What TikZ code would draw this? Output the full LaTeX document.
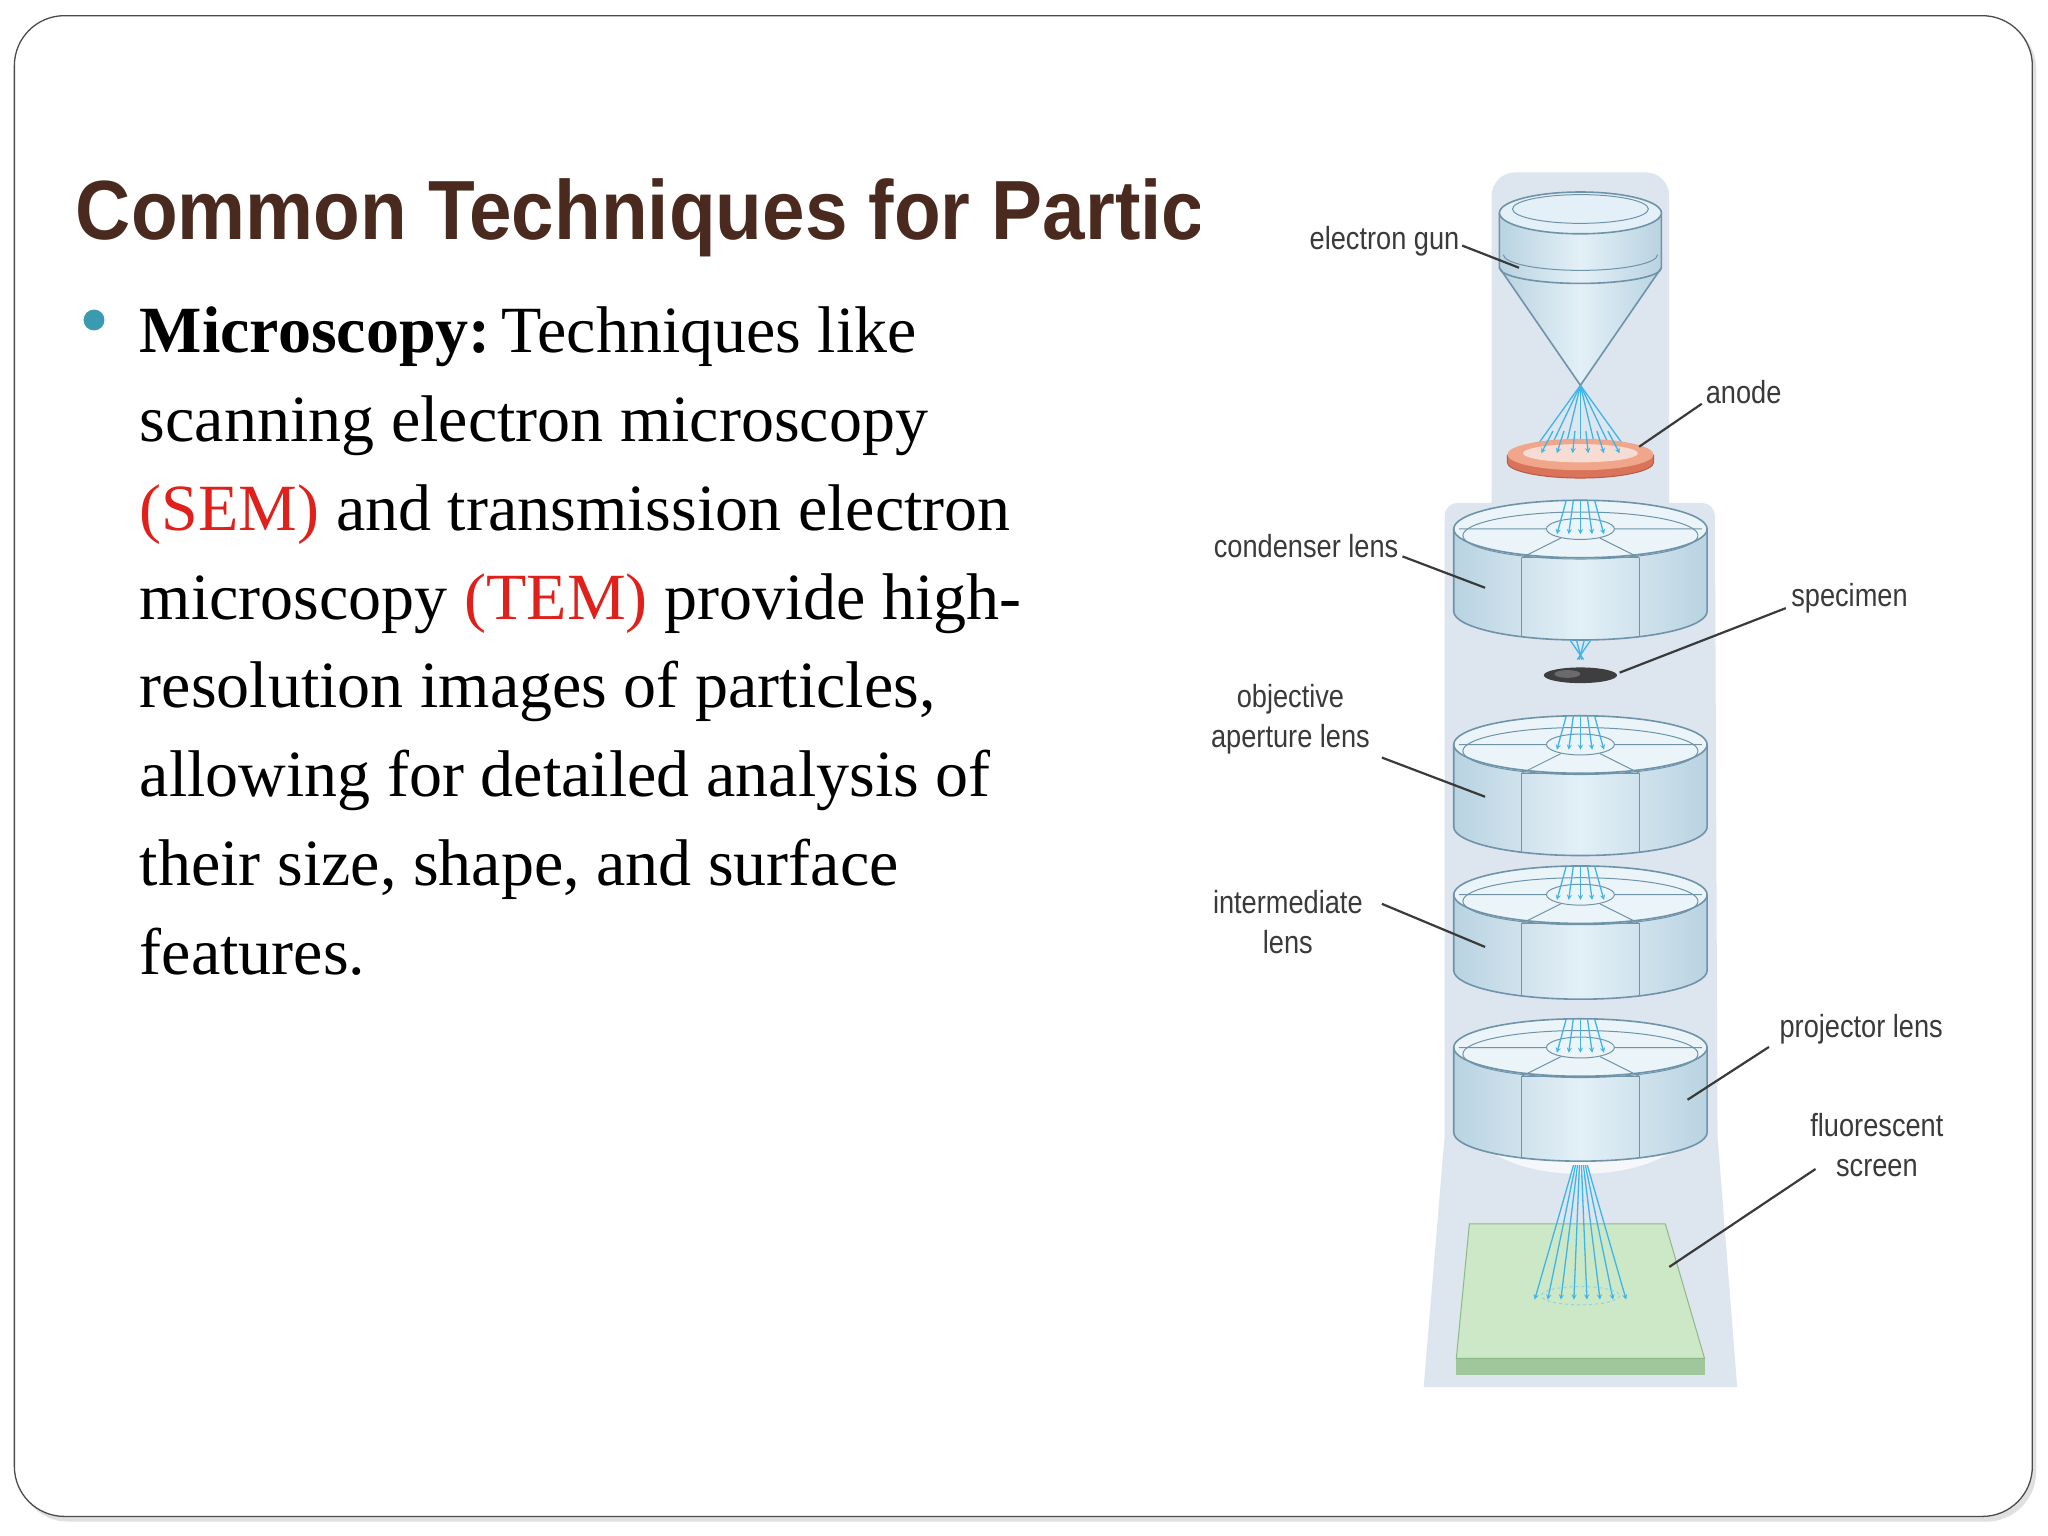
\documentclass[tikz,border=0pt]{standalone}
\usepackage{fontspec}
\setmainfont{Liberation Serif}
\newfontfamily\titlefont{Liberation Sans}
\newfontfamily\labfont{Liberation Sans}
\definecolor{titlec}{HTML}{4A2A1E}
\definecolor{bul}{HTML}{3A9BB0}
\definecolor{redt}{HTML}{E0201B}
\definecolor{colbg}{HTML}{DDE5EE}
\definecolor{lensL}{HTML}{B9D3E1}
\definecolor{lensM}{HTML}{E3F0F7}
\definecolor{lensE}{HTML}{6F93A8}
\definecolor{beam}{HTML}{3DB5EA}
\definecolor{labc}{HTML}{3A3A3A}
\definecolor{anA}{HTML}{D9735A}
\definecolor{anB}{HTML}{B85A45}
\definecolor{anC}{HTML}{EFA68A}
\definecolor{anD}{HTML}{F6DCD2}
\definecolor{specA}{HTML}{3E3E3E}
\definecolor{specB}{HTML}{6A6A6A}
\definecolor{scrA}{HTML}{9FC79B}
\definecolor{scrB}{HTML}{CDE8C6}
\definecolor{scrC}{HTML}{8DB889}
\tikzset{
 lab/.style={font=\labfont\fontsize{32}{40}\selectfont, text=labc, align=center, xscale=0.85, inner sep=0pt},
 leader/.style={draw=labc, line width=2.2pt},
 bodytxt/.style={anchor=base west, inner sep=0pt, font=\fontsize{66}{80}\selectfont},
 beamln/.style={draw=beam, line width=1.3pt},
 lensedge/.style={draw=lensE, line width=1.6pt}
}
\newcommand\lensdisc[2]{%
 \fill[left color=lensL, right color=lensL, middle color=lensM] (1113,#1) -- (1113,#1+#2) arc[start angle=180,end angle=0,x radius=97,y radius=22] -- (1307,#1) -- cycle;
 \fill[lensM!70!white] (1210,#1) ellipse[x radius=97,y radius=22];
 \draw[lensedge] (1113,#1) -- (1113,#1+#2) arc[start angle=180,end angle=0,x radius=97,y radius=22] -- (1307,#1);
 \draw[lensedge] (1210,#1) ellipse[x radius=97,y radius=22];
 \draw[lensedge, line width=1pt] (1210,#1+5) ellipse[x radius=90,y radius=18];
 \draw[lensedge, line width=1pt] (1210,#1) ellipse[x radius=26,y radius=8];
 \draw[lensedge, line width=1pt] (1184,#1) -- (1117,#1) (1236,#1) -- (1303,#1)
   (1195,#1+7) -- (1165,#1+22) (1225,#1+7) -- (1255,#1+22);
 \draw[lensedge, line width=1pt] (1165,#1+22) -- (1165,#1+#2+19) (1255,#1+22) -- (1255,#1+#2+19)
   (1165,#1+22) -- (1255,#1+22);
 \foreach \dx in {-18,-9,0,9,18}{\draw[beamln,-stealth] (1210+\dx*0.6,#1-22) -- (1210+\dx,#1+4);}
}
\begin{document}
\begin{tikzpicture}[x=1.306pt,y=-1.306pt]
\useasboundingbox (0,0) rectangle (1568,1176);
\fill[white] (0,0) rectangle (1568,1176);
% frame
\fill[black!12, rounded corners=50pt] (14,15) rectangle (1559,1165);
\draw[black!70, line width=1.3pt, fill=white, rounded corners=50pt] (11,12) rectangle (1556,1161);
% title
\begin{scope}
\clip (40,100) rectangle (918,210);
\node[anchor=base west, inner sep=0pt, text=titlec, font=\titlefont\bfseries\fontsize{84}{90}\selectfont, xscale=0.91] (title) at (58,183) {Common Techniques for Particle};
\end{scope}
% bullet text
\fill[bul] (72,245) circle[radius=8];
\node[bodytxt] (l1) at (107,270) {\textbf{Microscopy:}\,Techniques like};
\node[bodytxt] (l2) at (107,338) {scanning electron microscopy};
\node[bodytxt] (l3) at (107,406) {\textcolor{redt}{(SEM)} and transmission electron};
\node[bodytxt] (l4) at (107,474) {microscopy \textcolor{redt}{(TEM)} provide high-};
\node[bodytxt] (l5) at (107,542) {resolution images of particles,};
\node[bodytxt] (l6) at (107,610) {allowing for detailed analysis of};
\node[bodytxt] (l7) at (107,678) {their size, shape, and surface};
\node[bodytxt] (l8) at (107,746) {features.};
% column background
\fill[colbg] (1142,385) -- (1142,150) arc[start angle=180,end angle=270,radius=18] -- (1260,132) arc[start angle=270,end angle=360,radius=18] -- (1278,385) -- (1303,385) arc[start angle=270,end angle=360,radius=10] -- (1315,870) -- (1330,1062) -- (1090,1062) -- (1106,870) -- (1106,395) arc[start angle=180,end angle=270,radius=10] -- cycle;
\fill[white!70!colbg] (1140,880) .. controls (1170,905) and (1250,905) .. (1282,880) -- (1282,870) -- (1140,870) -- cycle;
% electron gun
\fill[left color=lensL, right color=lensL, middle color=lensM] (1148,163) -- (1148,205) -- (1210,295) -- (1272,205) -- (1272,163) -- cycle;
\draw[lensedge] (1148,163) -- (1148,205) -- (1210,295) -- (1272,205) -- (1272,163);
\draw[lensedge] (1148,205) arc[start angle=180,end angle=0,x radius=62,y radius=12];
\draw[lensedge, line width=1pt] (1151,195) arc[start angle=180,end angle=0,x radius=59,y radius=12];
\fill[lensM] (1210,163) ellipse[x radius=62,y radius=16];
\draw[lensedge] (1210,163) ellipse[x radius=62,y radius=16];
\draw[lensedge, line width=1pt] (1210,160) ellipse[x radius=52,y radius=11];
\coordinate (gun) at (1163,205);
% beams gun->anode
\foreach \dx in {-36,-24,-12,0,12,24,36}{\draw[beamln,-stealth] (1210,295) -- (1210+\dx,345);}
% anode
\fill[anA] (1154,348) -- (1154,354) arc[start angle=180,end angle=0,x radius=56,y radius=12] -- (1266,348) -- cycle;
\draw[anB, line width=1pt] (1154,348) -- (1154,354) arc[start angle=180,end angle=0,x radius=56,y radius=12] -- (1266,348);
\fill[anC] (1210,348) ellipse[x radius=56,y radius=12];
\fill[anD] (1210,347) ellipse[x radius=44,y radius=7];
\foreach \dx in {-30,-18,-6,6,18,30}{\draw[beamln,-stealth] (1210+\dx*0.7,330) -- (1210+\dx,347);}
\coordinate (anode) at (1255,342);
% lenses
\lensdisc{405}{63}
\foreach \dx in {-8,-3,3,8}{\draw[beamln] (1210+\dx,490) -- (1210-\dx*0.3,505);}
\fill[specA] (1210,517) ellipse[x radius=28,y radius=6];
\fill[specB] (1200,516) ellipse[x radius=10,y radius=3];
\lensdisc{570}{63}
\lensdisc{685}{58}
\lensdisc{802}{65}
\coordinate (cond) at (1137,450);
\coordinate (spec) at (1240,515);
\coordinate (obj) at (1137,610);
\coordinate (inter) at (1137,725);
\coordinate (proj) at (1292,842);
% screen
\fill[scrA] (1115,1040) -- (1305,1040) -- (1305,1053) -- (1115,1053) -- cycle;
\fill[scrB] (1125,937) -- (1275,937) -- (1305,1040) -- (1115,1040) -- cycle;
\draw[scrC, line width=1pt] (1125,937) -- (1275,937) -- (1305,1040) -- (1115,1040) -- cycle;
\foreach \dx in {-35,-25,-15,-5,5,15,25,35}{\draw[beamln,-stealth] (1210+\dx*0.15,892) -- (1210+\dx,995);}
\draw[beam!60, line width=1pt, dashed] (1210,992) ellipse[x radius=30,y radius=7];
\coordinate (scr) at (1278,970);
% labels
\node[lab] (Lgun) at (1060,185) {electron gun};
\node[lab] (Lan) at (1335,300) {anode};
\node[lab] (Lcond) at (1000,418) {condenser lens};
\node[lab] (Lspec) at (1416,458) {specimen};
\node[lab] (Lobj) at (988,551) {objective\\aperture lens};
\node[lab] (Lint) at (986,706) {intermediate\\lens};
\node[lab] (Lproj) at (1425,788) {projector lens};
\node[lab] (Lscr) at (1437,877) {fluorescent\\screen};
\draw[leader] (Lgun.east) ++(2,3) -- (gun);
\draw[leader] (Lan.south west) ++(-3,0) -- (anode);
\draw[leader] (Lcond.east) ++(3,8) -- (cond);
\draw[leader] (Lspec.south west) ++(-4,-4) -- (spec);
\draw[leader] (1058,580) -- (obj);
\draw[leader] (1058,692) -- (inter);
\draw[leader] (Lproj.south west) ++(-8,2) -- (proj);
\draw[leader] (1390,895) -- (scr);
\end{tikzpicture}
\end{document}
